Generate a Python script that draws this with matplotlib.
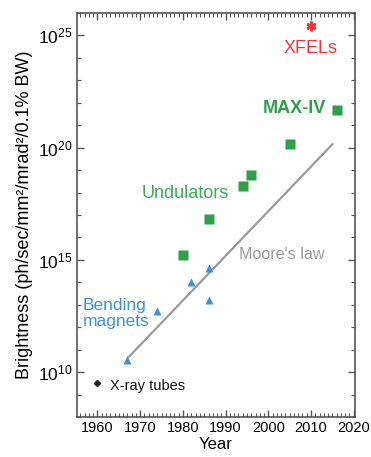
import numpy as np
import matplotlib
matplotlib.use("Agg")
import matplotlib.pyplot as plt
from matplotlib.ticker import FixedLocator, MultipleLocator, FuncFormatter

plt.rcParams['font.family'] = ['Liberation Sans', 'DejaVu Sans']
plt.rcParams['mathtext.fontset'] = 'custom'
plt.rcParams['mathtext.rm'] = 'Liberation Sans'
plt.rcParams['mathtext.it'] = 'Liberation Sans:italic'
plt.rcParams['mathtext.bf'] = 'Liberation Sans:bold'

# light sources: year and brightness (log10)
tube_year = [1960]
tube_logb = [9.53]

bend_year = [1967, 1974, 1982, 1986, 1986]
bend_logb = [10.52, 12.74, 14.0, 14.64, 13.23]

und_year = [1980, 1986, 1994, 1996, 2005, 2016]
und_logb = [15.24, 16.83, 18.3, 18.79, 20.18, 21.7]

xfel_year = [2010]
xfel_logb = [25.41]

moore_year = [1967, 2015]
moore_logb = [10.61, 20.15]

year_ticks = [1960, 1970, 1980, 1990, 2000, 2010, 2020]
pow_ticks = [10, 15, 20, 25]

green = '#2f9f4a'
blue = '#3d92d6'
red = '#f5333a'
gray = '#9a9a9a'

fig = plt.figure(figsize=(3.71, 4.57), dpi=100)
ax = fig.add_axes([77 / 371, 40 / 457, 278 / 371, 404 / 457])

ax.semilogy(moore_year, 10.0 ** np.array(moore_logb), color=gray, lw=1.6, zorder=2)
ax.semilogy(tube_year, 10.0 ** np.array(tube_logb), 'D', color='#222222', ms=3.2, zorder=3)
ax.semilogy(bend_year, 10.0 ** np.array(bend_logb), '^', color=blue, ms=6, mec='none', zorder=3)
ax.semilogy(und_year, 10.0 ** np.array(und_logb), 's', color=green, ms=6.5, mec='none', zorder=3)
ax.semilogy(xfel_year, 10.0 ** np.array(xfel_logb), marker=(6, 2, 0), ls='none',
            color=red, ms=7, mew=1.8, zorder=3)

ax.set_xlim(1955.2, 2020.3)
ax.set_ylim(1e8, 1e26)

ax.xaxis.set_major_locator(FixedLocator(year_ticks))
ax.xaxis.set_minor_locator(MultipleLocator(1))
ax.yaxis.set_major_locator(FixedLocator([10.0 ** p for p in pow_ticks]))
ax.yaxis.set_minor_locator(FixedLocator([10.0 ** p for p in range(8, 27)]))
ax.yaxis.set_major_formatter(FuncFormatter(lambda v, pos: r'$\mathregular{10^{%d}}$' % round(np.log10(v))))
ax.yaxis.set_minor_formatter(FuncFormatter(lambda v, pos: ''))

ax.tick_params(which='both', direction='in', top=True, right=True, color='#555555')
ax.tick_params(which='major', length=5, width=1.0, labelsize=10.5, pad=3)
ax.tick_params(which='minor', length=3, width=0.8)
ax.tick_params(axis='y', which='major', labelsize=12.5)
for s in ax.spines.values():
    s.set_color('#555555')
    s.set_linewidth(1.2)

ax.set_xlabel('Year', fontsize=12, labelpad=1)
ax.set_ylabel('Brightness (ph/sec/mm²/mrad²/0.1% BW)', fontsize=13, labelpad=4)

ax.text(2010, 10 ** 24.4, 'XFELs', color=red, fontsize=13, ha='center', va='center')
ax.text(2013.5, 10 ** 21.75, 'MAX-IV', color=green, fontsize=13, ha='right', va='center',
        fontweight='bold')
ax.text(1980.5, 10 ** 17.95, 'Undulators', color='#3aac57', fontsize=13, ha='center', va='center')
ax.text(1993.1, 10 ** 15.25, "Moore's law", color=gray, fontsize=11.6, ha='left', va='center')
ax.text(1956.5, 10 ** 12.6, 'Bending\nmagnets', color=blue, fontsize=12.5, ha='left', va='center',
        linespacing=1.05)
ax.text(1963, 10 ** 9.4, 'X-ray tubes', color='#111111', fontsize=10.5, ha='left', va='center')

fig.savefig('out.png', dpi=100)
